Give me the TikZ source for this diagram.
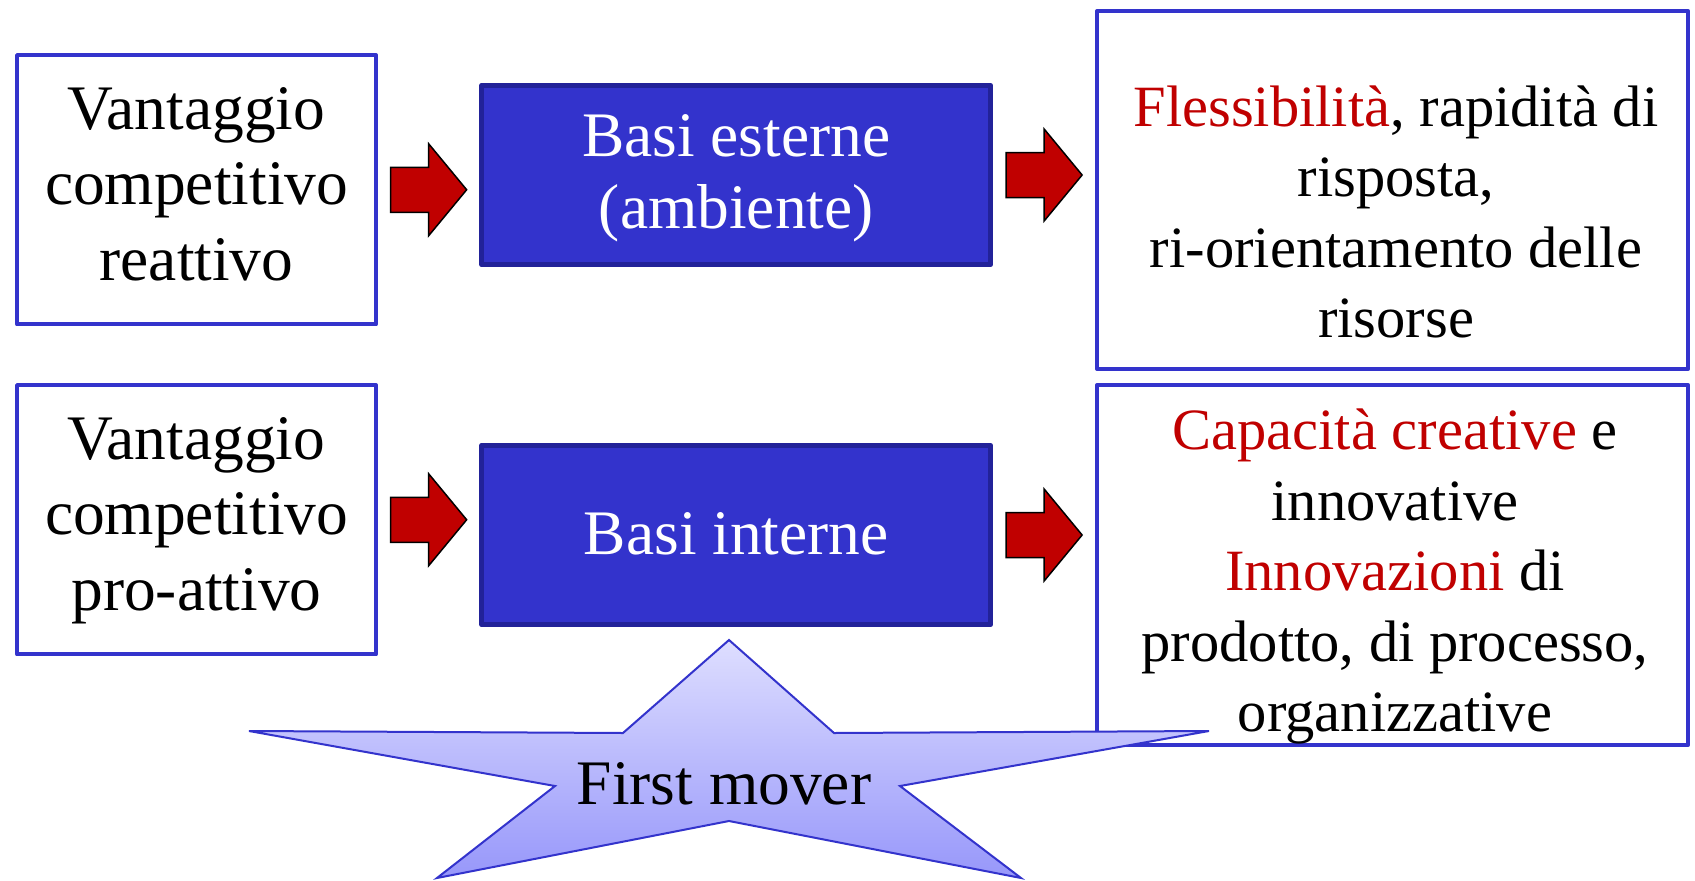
\documentclass[tikz,border=0pt]{standalone}
\usepackage{fontspec}
\setmainfont{Liberation Serif}
\usetikzlibrary{calc}
\definecolor{boxblue}{HTML}{3333CC}
\definecolor{darkblue}{HTML}{222299}
\definecolor{redtxt}{HTML}{C00000}
\definecolor{starTop}{HTML}{DEDEFF}
\definecolor{starBot}{HTML}{9797FA}
\tikzset{
  wbox/.style={draw=boxblue, line width=0.08cm, line join=round, fill=white, rectangle,
    inner sep=0pt, align=center, font=\fontsize{36.1pt}{43.2pt}\selectfont},
  bbox/.style={draw=darkblue, fill=boxblue, line width=0.1cm, line join=round, rectangle,
    inner sep=0pt},
  btext/.style={text=white, align=center, inner sep=0pt, font=\fontsize{36.1pt}{41.4pt}\selectfont},
  rtext/.style={align=center, inner sep=0pt, font=\fontsize{33.3pt}{40.1pt}\selectfont},
  startext/.style={align=center, inner sep=0pt, font=\fontsize{36.1pt}{43.2pt}\selectfont},
  starshape/.style={draw=boxblue, line width=0.04cm, top color=starTop, bottom color=starBot},
  barrow/.pic={\draw[fill=redtxt, draw=black, line width=0.03cm, line join=miter]
    (-38,-22.5) -- (0,-22.5) -- (0,-46) -- (38,0) -- (0,46) -- (0,22.5) -- (-38,22.5) -- cycle;}
}
\begin{document}
\begin{tikzpicture}[x=0.02cm,y=-0.02cm]
\useasboundingbox (0,0) rectangle (1695,880);
% left boxes
\node[wbox, minimum width=7.18cm, minimum height=5.39cm] (tl) at (196.5,189.75)
  {\strut Vantaggio\\ competitivo\\ \strut reattivo};
\node[wbox, minimum width=7.18cm, minimum height=5.39cm] (bl) at (196.5,519.75)
  {\strut Vantaggio\\ competitivo\\ \strut pro-attivo};
% blue boxes
\node[bbox, minimum width=10.18cm, minimum height=3.59cm] (bt) at (736.3,175) {};
\node[bbox, minimum width=10.18cm, minimum height=3.59cm] (bb) at (736.3,535) {};
\node[btext] (btt) at (736.3,178) {\strut Basi esterne\\ \strut (ambiente)};
\node[btext] (bbt) at (736.3,540) {\strut Basi interne};
% right boxes
\node[wbox, minimum width=11.826cm, minimum height=7.16cm] (tr) at (1392.6,190) {};
\node[wbox, minimum width=11.826cm, minimum height=7.2cm] (br) at (1392.6,565) {};
% block arrows
\pic at ($(tl.east)!.5!(bt.west|-tl.east)$) {barrow};
\pic at ($(bl.east)!.5!(bb.west|-bl.east)$) {barrow};
\pic at ($(bt.east)!.5!(tr.west|-bt.east)$) {barrow};
\pic at ($(bb.east)!.5!(br.west|-bb.east)$) {barrow};
% star
\path[starshape] (729,640) -- (834,733) -- (1209,731) -- (900,786) -- (1021,878)
  -- (729,821) -- (437,878) -- (555,786) -- (249,731) -- (623,733) -- cycle;
\node[startext] (fm) at (724,789.8) {\strut First mover};
% right texts
\node[rtext] (trt) at (1396,217.7)
  {\strut\textcolor{redtxt}{Flessibilità}, rapidità di\\ risposta,\\ ri-orientamento delle\\ \strut risorse};
\node[rtext] (brt) at (1395,576.7)
  {\strut\textcolor{redtxt}{Capacità creative} e\\ innovative\\ \textcolor{redtxt}{Innovazioni} di\\ prodotto, di processo,\\ \strut organizzative};
\end{tikzpicture}
\end{document}
